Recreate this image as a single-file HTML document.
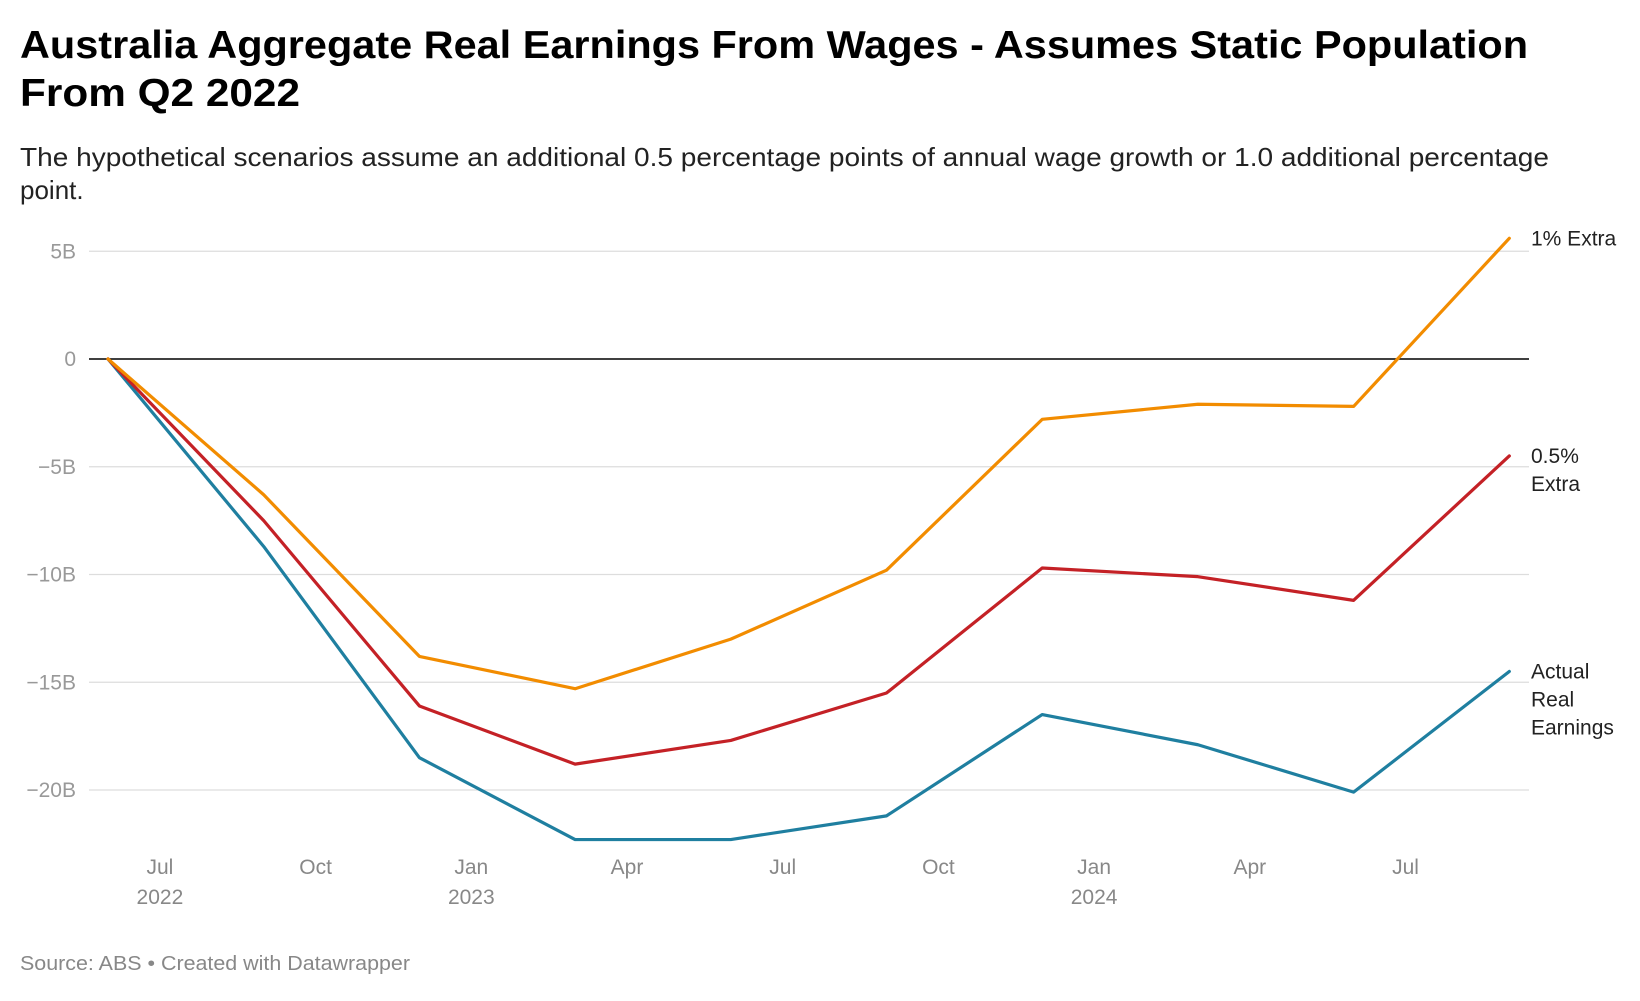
<!DOCTYPE html>
<html><head><meta charset="utf-8">
<style>
body{margin:0;background:#fff;width:1640px;height:996px;overflow:hidden;font-family:"Liberation Sans",sans-serif;}
svg text{font-family:"Liberation Sans",sans-serif;}
</style></head>
<body>
<svg id="chart" width="1640" height="996" viewBox="0 0 1640 996" xmlns="http://www.w3.org/2000/svg">
<text x="20" y="58" font-size="39" font-weight="bold" fill="#000" textLength="1508" lengthAdjust="spacingAndGlyphs">Australia Aggregate Real Earnings From Wages - Assumes Static Population</text>
<text x="20" y="106" font-size="39" font-weight="bold" fill="#000" textLength="280" lengthAdjust="spacingAndGlyphs">From Q2 2022</text>
<text x="20" y="166" font-size="26" fill="#222" textLength="1529" lengthAdjust="spacingAndGlyphs">The hypothetical scenarios assume an additional 0.5 percentage points of annual wage growth or 1.0 additional percentage</text>
<text x="20" y="199" font-size="26" fill="#222">point.</text>
<g id="grid"></g><g id="lines"></g><g id="labels"></g>
<text x="20" y="970" font-size="20" fill="#888" textLength="390" lengthAdjust="spacingAndGlyphs">Source: ABS • Created with Datawrapper</text>
</svg>
<script>
const quarters = ["Q2 2022","Q3 2022","Q4 2022","Q1 2023","Q2 2023","Q3 2023","Q4 2023","Q1 2024","Q2 2024","Q3 2024"];
const actual = [0,-8.7,-18.5,-22.3,-22.3,-21.2,-16.5,-17.9,-20.1,-14.5];
const extraHalf = [0,-7.5,-16.1,-18.8,-17.7,-15.5,-9.7,-10.1,-11.2,-4.5];
const extraOne = [0,-6.3,-13.8,-15.3,-13.0,-9.8,-2.8,-2.1,-2.2,5.6];
const yTicks = [5,0,-5,-10,-15,-20];
const yTickLabels = ["5B","0","\u22125B","\u221210B","\u221215B","\u221220B"];
const xTickLabels = ["Jul","Oct","Jan","Apr","Jul","Oct","Jan","Apr","Jul"];
const xTickYears = ["2022","","2023","","","","2024","",""];

const NS="http://www.w3.org/2000/svg";
const x0=108, dx=155.7, plotL=89, plotR=1529, zeroY=359, perB=21.55;
const xs=i=>x0+i*dx;
const ys=v=>zeroY-v*perB;
function mk(tag,attrs,parent,txt){const e=document.createElementNS(NS,tag);for(const k in attrs)e.setAttribute(k,attrs[k]);if(txt!==undefined)e.textContent=txt;parent.appendChild(e);return e;}
const grid=document.getElementById('grid'), lines=document.getElementById('lines'), labels=document.getElementById('labels');
yTicks.forEach((t,i)=>{
  const l=mk('line',{x1:plotL,x2:plotR,y1:ys(t),y2:ys(t),stroke:t===0?'#000':'#ddd','stroke-width':t===0?1.6:1.2},grid);
  
  
  const tx=mk('text',{x:76,y:ys(t)+7,'text-anchor':'end','font-size':21,fill:'#999'},grid,yTickLabels[i]);
  
  
});
xTickLabels.forEach((m,i)=>{
  const x=xs(i+1/3);
  const t=mk('text',{x:x,y:874,'text-anchor':'middle','font-size':21,fill:'#888'},labels,m);
  
  
  if(xTickYears[i]){
    const y=mk('text',{x:x,y:904,'text-anchor':'middle','font-size':21,fill:'#888'},labels,xTickYears[i]);
    
    
  }
});
const series=[
  {vals:actual,color:'#1f7fa0',name:'actual-real-earnings-line',lab:["Actual","Real","Earnings"]},
  {vals:extraHalf,color:'#c42126',name:'half-percent-extra-line',lab:["0.5%","Extra"]},
  {vals:extraOne,color:'#f28c00',name:'one-percent-extra-line',lab:["1% Extra"]}
];
series.forEach(s=>{
  const p=mk('polyline',{points:s.vals.map((v,i)=>xs(i)+','+ys(v)).join(' '),fill:'none',stroke:s.color,'stroke-width':3.2,'stroke-linejoin':'round','stroke-linecap':'round'},lines);
  
  
  const last=s.vals[s.vals.length-1];
  s.lab.forEach((t,j)=>{
    const e=mk('text',{x:1531,y:ys(last)+7+j*28,'font-size':21,fill:'#222'},labels,t);
    
    
  });
});
</script>
</body></html>
